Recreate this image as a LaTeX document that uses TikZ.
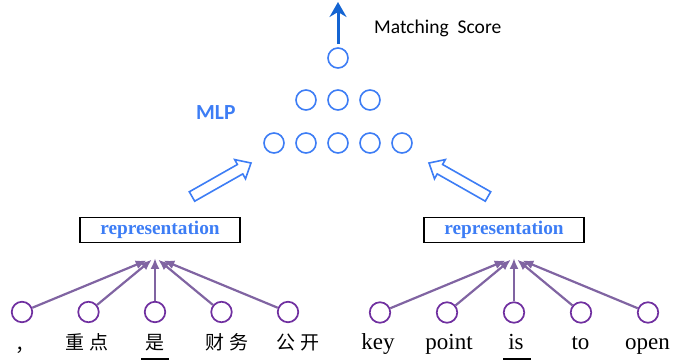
\documentclass[tikz,border=0pt]{standalone}
\usepackage{fontspec}
\setmainfont{Liberation Serif}
\newfontfamily\calfont{Carlito}
\newfontfamily\cjkfont{Noto Sans CJK SC}
\usetikzlibrary{arrows.meta}
\definecolor{nblue}{RGB}{61,125,245}
\definecolor{dblue}{RGB}{20,100,210}
\definecolor{ppl}{RGB}{112,48,160}
\definecolor{pplar}{RGB}{128,100,162}
\begin{document}
\begin{tikzpicture}[x=1pt,y=-1pt,
 neuron/.style={circle,draw=nblue,line width=1.6pt,minimum size=20pt,inner sep=0pt},
 token/.style={circle,draw=ppl,line width=1.7pt,minimum size=20.5pt,inner sep=0pt},
 repbox/.style={draw=black,line width=1.6pt,minimum width=160pt,minimum height=25pt,inner sep=0pt,text=nblue,font=\bfseries\fontsize{19.3}{19.3}\selectfont},
 word/.style={anchor=base,inner sep=0pt,font=\fontsize{23}{23}\selectfont},
 cword/.style={anchor=base,inner sep=0pt,font=\cjkfont\fontsize{19}{19}\selectfont},
 feed/.style={draw=pplar,line width=2.2pt,-{Latex[length=11pt,width=9pt]}},
 hollow/.style={draw=nblue,line width=1.6pt,fill=white,line join=miter},
 uline/.style={draw=black,line width=1.2pt}
]
\useasboundingbox (0,0) rectangle (673,363);

% MLP
\node[neuron] (o1) at (338,58) {};
\node[neuron] (h1) at (306,100) {};
\node[neuron] (h2) at (338,100) {};
\node[neuron] (h3) at (370,100) {};
\node[neuron] (i1) at (274,143) {};
\node[neuron] (i2) at (306,143) {};
\node[neuron] (i3) at (338,143) {};
\node[neuron] (i4) at (370,143) {};
\node[neuron] (i5) at (402,143) {};
\coordinate (score) at (338,2);
\draw[dblue,line width=3pt,shorten <=3pt,-{Stealth[length=15pt,width=17pt,inset=5pt]}] (o1) -- (score);
\node[anchor=base west,inner sep=0pt,font=\calfont\fontsize{19.5}{19.5}\selectfont] (ms) at (374,34) {\spaceskip=9pt Matching Score};
\node[anchor=base west,inner sep=0pt,text=nblue,font=\calfont\bfseries\fontsize{21.5}{21.5}\selectfont] (mlp) at (196,119.5) {MLP};

% hollow arrows
\draw[hollow] (194.7,201.2) -- (242.8,173.9) -- (245.5,178.8) -- (251,163) -- (234.7,159.6) -- (237.4,164.5) -- (189.3,191.8) -- cycle;
\draw[hollow] (485.3,201.2) -- (437.2,173.9) -- (434.5,178.8) -- (429,163) -- (445.3,159.6) -- (442.6,164.5) -- (490.7,191.8) -- cycle;

% representation boxes
\node[repbox] (rl) at (160,230) {representation};
\node[repbox] (rr) at (504,230) {representation};
\coordinate (cl) at (155,257);
\coordinate (cr) at (514,257);

% left tokens
\node[token] (l1) at (22,312) {};
\node[token] (l2) at (88.5,312) {};
\node[token] (l3) at (155,312) {};
\node[token] (l4) at (221.5,312) {};
\node[token] (l5) at (288,312) {};
\draw[feed,shorten >=9pt] (l1) -- (cl);
\draw[feed,shorten >=4pt] (l2) -- (cl);
\draw[feed,shorten >=1pt] (l3) -- (cl);
\draw[feed,shorten >=4pt] (l4) -- (cl);
\draw[feed,shorten >=9pt] (l5) -- (cl);

% right tokens
\node[token] (r1) at (380,312.5) {};
\node[token] (r2) at (447,312.5) {};
\node[token] (r3) at (514,312.5) {};
\node[token] (r4) at (581,312.5) {};
\node[token] (r5) at (648,312.5) {};
\draw[feed,shorten >=9pt] (r1) -- (cr);
\draw[feed,shorten >=4pt] (r2) -- (cr);
\draw[feed,shorten >=1pt] (r3) -- (cr);
\draw[feed,shorten >=4pt] (r4) -- (cr);
\draw[feed,shorten >=9pt] (r5) -- (cr);

% words
\node[cword,anchor=base west] (w1) at (15,352) {，};
\node[cword] (w2) at (87,350) {重\hspace{5pt}点};
\node[cword] (w3) at (155,350) {是};
\node[cword] (w4) at (227,350) {财\hspace{5pt}务};
\node[cword] (w5) at (298,350) {公\hspace{5pt}开};
\draw[uline] ([xshift=-14pt,yshift=-9pt]w3.base) -- ([xshift=14pt,yshift=-9pt]w3.base);

\node[word] (e1) at (378,350) {key};
\node[word] (e2) at (449,350) {point};
\node[word] (e3) at (516,350) {is};
\node[word] (e4) at (580.5,350) {to};
\node[word] (e5) at (647.5,350) {open};
\draw[uline] ([xshift=-13pt,yshift=-9pt]e3.base) -- ([xshift=15pt,yshift=-9pt]e3.base);
\end{tikzpicture}
\end{document}
